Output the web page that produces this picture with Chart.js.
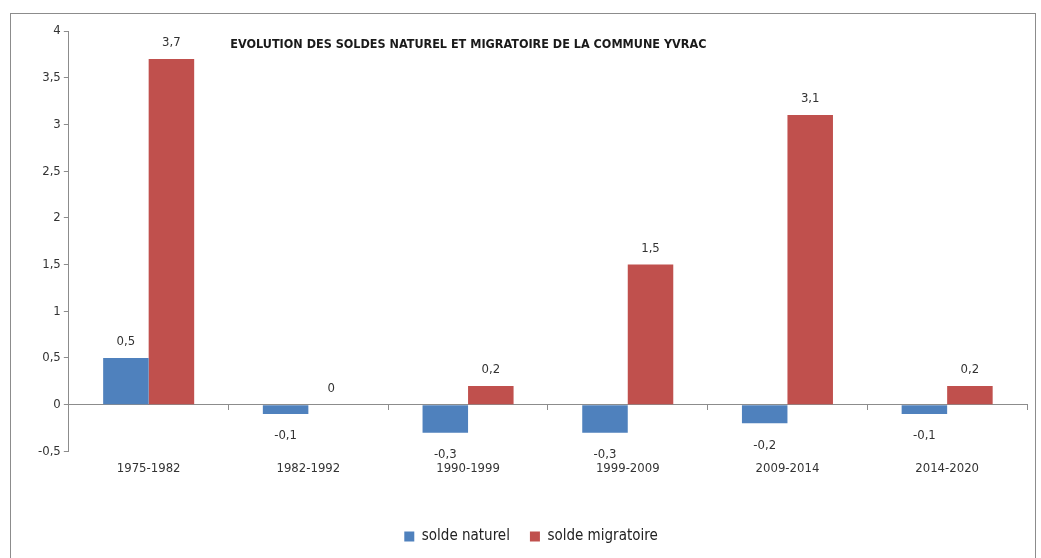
<!DOCTYPE html>
<html>
<head>
<meta charset="utf-8">
<script src="https://cdn.jsdelivr.net/npm/chart.js@4/dist/chart.umd.min.js"></script>
<style>
  body { margin: 0; background: #fff; }
  #frame { position: absolute; left: 10px; top: 13px; width: 1024px; height: 560px; border: 1px solid #8c8c8c; }
  #wrap { position: absolute; left: 0; top: 0; width: 1024px; height: 544px; }
</style>
</head>
<body>
<div id="frame"><div id="wrap"><canvas id="chart"></canvas></div></div>
<script>
// data
const periods = ["1975-1982", "1982-1992", "1990-1999", "1999-2009", "2009-2014", "2014-2020"];
const soldeNaturel = [0.5, -0.1, -0.3, -0.3, -0.2, -0.1];
const soldeMigratoire = [3.7, 0, 0.2, 1.5, 3.1, 0.2];
const titleText = "EVOLUTION DES SOLDES NATUREL ET MIGRATOIRE DE LA COMMUNE YVRAC";

const FONT = "'Liberation Sans Narrow', 'DejaVu Sans Condensed', sans-serif";

function fr(v) {
    return String(v).replace(".", ",");
}

// value labels at end of each bar, plus the title inside the plot
const labelPlugin = {
    id: "labels",
    afterDatasetsDraw(chart) {
        const ctx = chart.ctx;
        ctx.save();
        ctx.fillStyle = "#333";
        ctx.font = "13px " + FONT;
        ctx.textAlign = "center";
        ctx.textBaseline = "middle";
        chart.data.datasets.forEach((ds, i) => {
            const meta = chart.getDatasetMeta(i);
            meta.data.forEach((bar, j) => {
                const v = ds.data[j];
                const y = v < 0 ? bar.y + 22 : bar.y - 16;
                ctx.fillText(fr(v), bar.x, y);
            });
        });
        ctx.font = "bold 12.5px " + FONT;
        ctx.fillStyle = "#1a1a1a";
        const xs = chart.scales.x;
        ctx.fillText(titleText, xs.left + (xs.right - xs.left) * 0.417, chart.chartArea.top + 14);
        ctx.restore();
    }
};

new Chart(document.getElementById("chart"), {
    type: "bar",
    data: {
        labels: periods,
        datasets: [{
            label: "solde naturel",
            data: soldeNaturel,
            backgroundColor: "#4F81BD",
            categoryPercentage: 0.57,
            barPercentage: 1
        }, {
            label: "solde migratoire",
            data: soldeMigratoire,
            backgroundColor: "#C0504D",
            categoryPercentage: 0.57,
            barPercentage: 1
        }]
    },
    options: {
        responsive: true,
        maintainAspectRatio: false,
        animation: false,
        layout: { padding: { left: 24, right: 8, top: 17, bottom: 4 } },
        plugins: {
            legend: {
                position: "bottom",
                labels: {
                    font: { family: FONT, size: 15 },
                    color: "#222",
                    boxWidth: 10,
                    boxHeight: 10,
                    padding: 20
                }
            },
            tooltip: { enabled: false }
        },
        scales: {
            x: {
                position: { y: 0 },
                ticks: { display: false },
                grid: { display: true, drawOnChartArea: false, drawTicks: true, tickLength: 5, color: "#8c8c8c", offset: true },
                border: { display: true, color: "#8c8c8c" }
            },
            x2: {
                type: "category",
                labels: periods,
                position: "bottom",
                offset: true,
                ticks: { font: { family: FONT, size: 13 }, color: "#333", padding: 1 },
                grid: { display: false },
                border: { display: false },
                afterFit: (scale) => { scale.height += 32; }
            },
            y: {
                min: -0.5,
                max: 4,
                ticks: {
                    stepSize: 0.5,
                    font: { family: FONT, size: 13 },
                    color: "#333",
                    callback: (v) => fr(v)
                },
                grid: { drawOnChartArea: false, tickLength: 5, color: "#8c8c8c" },
                border: { display: true, color: "#8c8c8c" }
            }
        }
    },
    plugins: [labelPlugin]
});
</script>
</body>
</html>
